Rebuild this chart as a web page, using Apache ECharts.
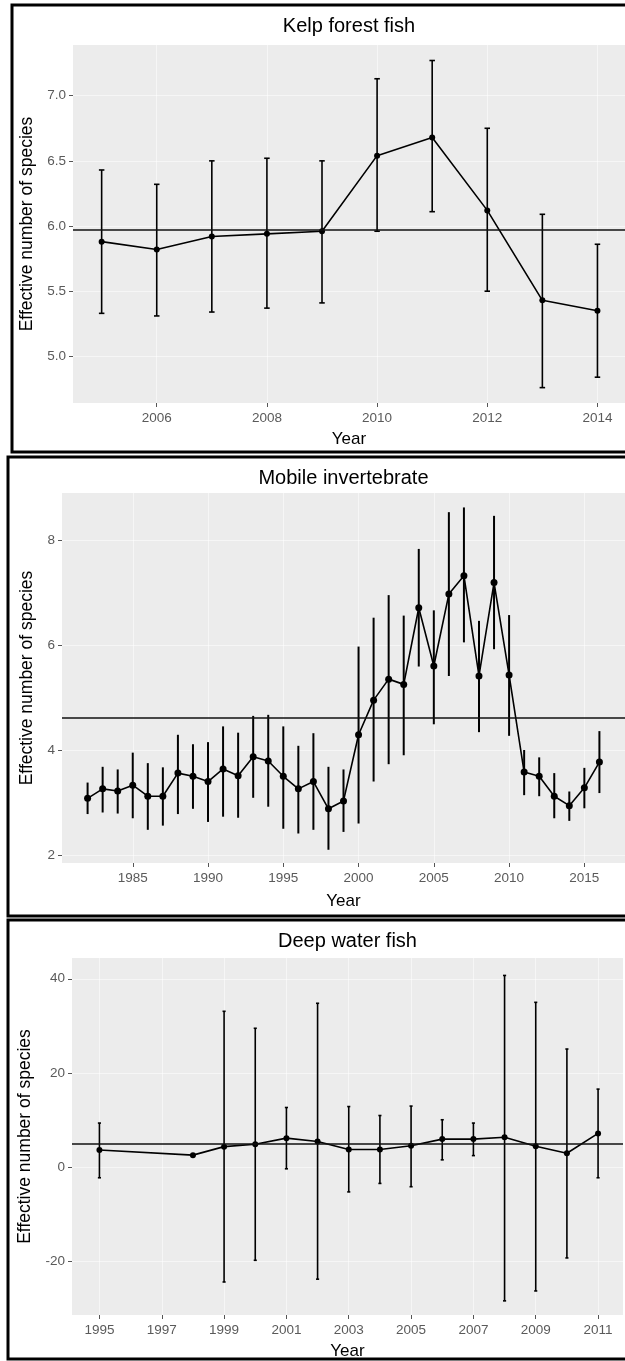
<!DOCTYPE html>
<html>
<head>
<meta charset="utf-8">
<script src="https://cdn.jsdelivr.net/npm/echarts@6/dist/echarts.min.js"></script>
<style>
html,body{margin:0;padding:0;background:#fff;}
#chart{width:625px;height:1361px;}
</style>
</head>
<body>
<div id="chart"></div>
<script>
// ---------- Data ----------
// Panel 1: Kelp forest fish
const kelpYears = [2005, 2006, 2007, 2008, 2009, 2010, 2011, 2012, 2013, 2014];
const kelpMean  = [5.88, 5.82, 5.92, 5.94, 5.96, 6.54, 6.68, 6.12, 5.43, 5.35];
const kelpLower = [5.33, 5.31, 5.34, 5.37, 5.41, 5.96, 6.11, 5.50, 4.76, 4.84];
const kelpUpper = [6.43, 6.32, 6.50, 6.52, 6.50, 7.13, 7.27, 6.75, 6.09, 5.86];
const kelpRef = 5.97;
const kelpXTicks = [2006, 2008, 2010, 2012, 2014];
const kelpYTicks = [5.0, 5.5, 6.0, 6.5, 7.0];

// Panel 2: Mobile invertebrate
const invYears = [1982,1983,1984,1985,1986,1987,1988,1989,1990,1991,1992,1993,1994,1995,1996,1997,1998,1999,
                  2000,2001,2002,2003,2004,2005,2006,2007,2008,2009,2010,2011,2012,2013,2014,2015,2016];
const invMean  = [3.08,3.26,3.22,3.33,3.12,3.12,3.56,3.50,3.40,3.64,3.51,3.87,3.79,3.50,3.26,3.40,2.88,3.03,
                  4.29,4.95,5.35,5.25,6.71,5.60,6.97,7.32,5.41,7.19,5.43,3.58,3.50,3.12,2.94,3.28,3.77];
const invLower = [2.78,2.81,2.79,2.70,2.48,2.56,2.78,2.88,2.63,2.73,2.71,3.09,2.92,2.50,2.41,2.48,2.10,2.44,
                  2.60,3.40,3.73,3.90,5.59,4.49,5.41,6.05,4.34,5.92,4.27,3.14,3.12,2.70,2.65,2.89,3.18];
const invUpper = [3.38,3.68,3.63,3.95,3.75,3.67,4.29,4.11,4.15,4.45,4.33,4.65,4.67,4.45,4.08,4.32,3.68,3.63,
                  5.97,6.52,6.95,6.56,7.83,6.66,8.53,8.62,6.46,8.46,6.57,4.00,3.86,3.56,3.21,3.66,4.36];
const invRef = 4.62;
const invXTicks = [1985, 1990, 1995, 2000, 2005, 2010, 2015];
const invYTicks = [2, 4, 6, 8];

// Panel 3: Deep water fish
const deepYears = [1995, 1998, 1999, 2000, 2001, 2002, 2003, 2004, 2005, 2006, 2007, 2008, 2009, 2010, 2011];
const deepMean  = [3.7, 2.6, 4.4, 4.9, 6.2, 5.5, 3.8, 3.8, 4.6, 6.0, 6.0, 6.4, 4.5, 3.0, 7.2];
const deepLower = [-2.2, null, -24.3, -19.7, -0.3, -23.7, -5.2, -3.4, -4.1, 1.6, 2.5, -28.3, -26.2, -19.2, -2.2];
const deepUpper = [9.4, null, 33.1, 29.5, 12.7, 34.8, 12.9, 11.0, 13.0, 10.1, 9.4, 40.7, 35.0, 25.1, 16.6];
const deepRef = 5.0;
const deepXTicks = [1995, 1997, 1999, 2001, 2003, 2005, 2007, 2009, 2011];
const deepYTicks = [-20, 0, 20, 40];

const titles = ['Kelp forest fish', 'Mobile invertebrate', 'Deep water fish'];
const xName = 'Year';
const yName = 'Effective number of species';

// ---------- Layout / style ----------
const FONT = '"Liberation Sans", Arial, sans-serif';
const panels = [
  {years: kelpYears, mean: kelpMean, lo: kelpLower, hi: kelpUpper, ref: kelpRef, xt: kelpXTicks, yt: kelpYTicks,
   grid: {left: 73, top: 45, width: 552, height: 358}, xr: [2004.48, 2014.5], yr: [4.642, 7.389],
   cap: 0.1, dec: 1, sym: 6, lw: 1.6, titleTop: 16, xGap: 28},
  {years: invYears, mean: invMean, lo: invLower, hi: invUpper, ref: invRef, xt: invXTicks, yt: invYTicks,
   grid: {left: 62, top: 493, width: 563, height: 370}, xr: [1980.3, 2017.7], yr: [1.848, 8.895],
   cap: 0, dec: 0, sym: 7, lw: 2, titleTop: 468, xGap: 30},
  {years: deepYears, mean: deepMean, lo: deepLower, hi: deepUpper, ref: deepRef, xt: deepXTicks, yt: deepYTicks,
   grid: {left: 72, top: 958, width: 551, height: 357}, xr: [1994.12, 2011.8], yr: [-31.3, 44.4],
   cap: 0.1, dec: 0, sym: 6, lw: 1.6, titleTop: 931, xGap: 28}
];

const grids = [], xAxes = [], yAxes = [], series = [], titleOpts = [];
panels.forEach((p, i) => {
  grids.push(Object.assign({show: true, backgroundColor: '#ECECEC', borderWidth: 0, containLabel: false}, p.grid));
  titleOpts.push({
    text: titles[i], left: p.grid.left + p.grid.width / 2, top: p.titleTop, textAlign: 'center', padding: 0,
    textStyle: {fontFamily: FONT, fontSize: 20, fontWeight: 'normal', color: '#000'}
  });
  xAxes.push({
    type: 'value', gridIndex: i, min: p.xr[0], max: p.xr[1],
    name: xName, nameLocation: 'middle', nameGap: p.xGap,
    nameTextStyle: {fontFamily: FONT, fontSize: 17, color: '#000'},
    axisLine: {show: false, onZero: false},
    axisTick: {show: true, length: 4, customValues: p.xt, lineStyle: {color: '#555', width: 1}},
    axisLabel: {show: true, customValues: p.xt, margin: 8, fontFamily: FONT, fontSize: 13.5, color: '#5a5a5a',
                formatter: v => String(v)},
    splitLine: {show: true, lineStyle: {color: 'rgba(255,255,255,0.55)', width: 1}}
  });
  yAxes.push({
    type: 'value', gridIndex: i, min: p.yr[0], max: p.yr[1],
    name: yName, nameLocation: 'middle', nameGap: p.grid.left - 39, nameRotate: 90,
    nameTextStyle: {fontFamily: FONT, fontSize: 17.5, color: '#000'},
    axisLine: {show: false, onZero: false},
    axisTick: {show: true, length: 4, customValues: p.yt, lineStyle: {color: '#555', width: 1}},
    axisLabel: {show: true, customValues: p.yt, margin: 7, fontFamily: FONT, fontSize: 13.5, color: '#5a5a5a',
                formatter: v => Number(v).toFixed(p.dec)},
    splitLine: {show: true, lineStyle: {color: 'rgba(255,255,255,0.55)', width: 1}}
  });
  const errData = p.years.map((y, k) => [y, p.lo[k], p.hi[k]]);
  series.push({
    type: 'custom', xAxisIndex: i, yAxisIndex: i, silent: true, z: 3,
    data: errData,
    renderItem: (params, api) => {
      const lo = api.value(1), hi = api.value(2);
      if (lo == null || hi == null || isNaN(lo) || isNaN(hi)) return null;
      const x = api.value(0);
      const a = api.coord([x, lo]), b = api.coord([x, hi]);
      const st = {stroke: '#000', lineWidth: p.lw};
      const children = [{type: 'line', shape: {x1: a[0], y1: a[1], x2: b[0], y2: b[1]}, style: st}];
      if (p.cap > 0) {
        const l1 = api.coord([x - p.cap / 2, lo]), r1 = api.coord([x + p.cap / 2, lo]);
        const l2 = api.coord([x - p.cap / 2, hi]), r2 = api.coord([x + p.cap / 2, hi]);
        children.push({type: 'line', shape: {x1: l1[0], y1: l1[1], x2: r1[0], y2: r1[1]}, style: st});
        children.push({type: 'line', shape: {x1: l2[0], y1: l2[1], x2: r2[0], y2: r2[1]}, style: st});
      }
      return {type: 'group', children};
    }
  });
  series.push({
    type: 'line', xAxisIndex: i, yAxisIndex: i, z: 4,
    data: p.years.map((y, k) => [y, p.mean[k]]),
    symbol: 'circle', symbolSize: p.sym, showSymbol: true,
    itemStyle: {color: '#000'}, lineStyle: {color: '#000', width: 1.6},
    markLine: {silent: true, symbol: 'none', label: {show: false},
               lineStyle: {color: '#111', width: 1.6, type: 'solid'}, data: [{yAxis: p.ref}]}
  });
});

const borders = [
  {x: 12, y: 5, w: 640, h: 447},
  {x: 8, y: 457, w: 640, h: 459},
  {x: 8, y: 920, w: 640, h: 439}
].map(b => ({type: 'rect', shape: {x: b.x, y: b.y, width: b.w, height: b.h},
             style: {fill: 'none', stroke: '#000', lineWidth: 3}, z: 100, silent: true}));

const chart = echarts.init(document.getElementById('chart'), null, {renderer: 'canvas'});
chart.setOption({
  animation: false,
  backgroundColor: '#fff',
  title: titleOpts,
  grid: grids,
  xAxis: xAxes,
  yAxis: yAxes,
  series: series,
  graphic: borders
});
</script>
</body>
</html>
